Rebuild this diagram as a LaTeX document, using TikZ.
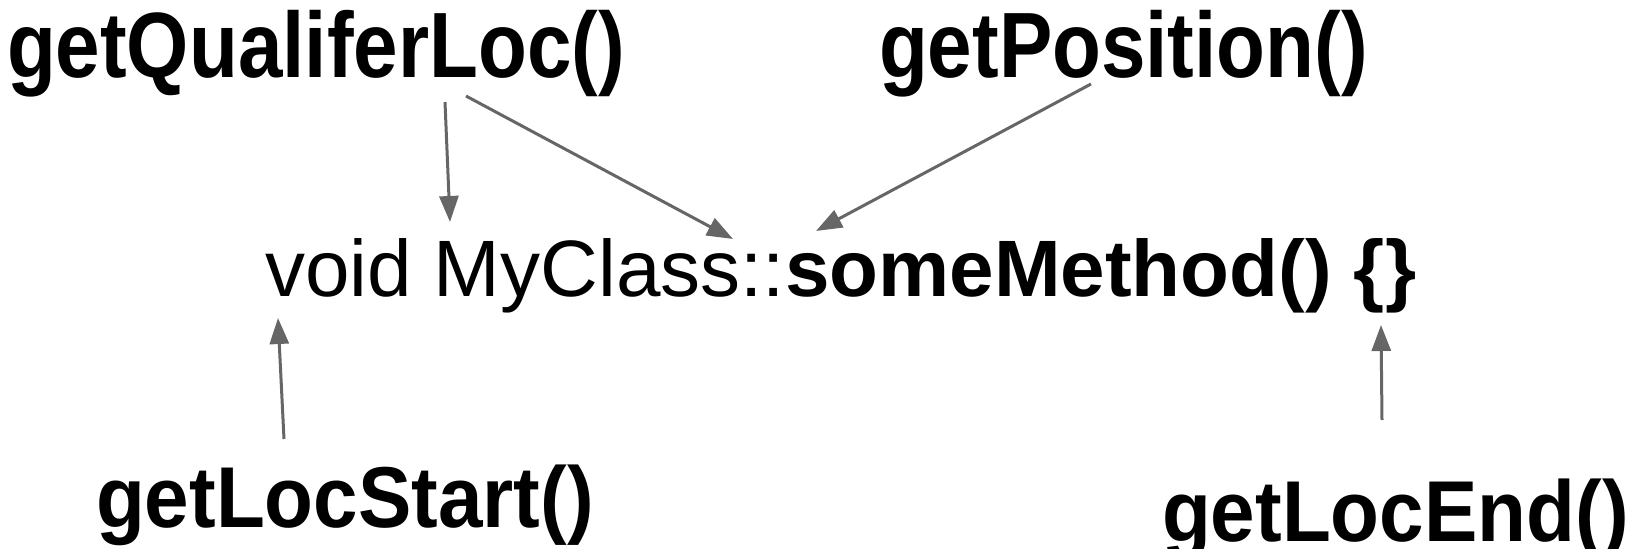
\documentclass[tikz,border=0pt]{standalone}
\usepackage{fontspec}
\setmainfont{Liberation Sans}
\usetikzlibrary{arrows.meta}
\definecolor{arrowgray}{HTML}{666666}
% tall bold label text
\newcommand{\tallbold}[2]{\scalebox{1}[#1]{#2}}
\begin{document}
\begin{tikzpicture}[x=1pt,y=-1pt,
  label/.style={anchor=base west,inner sep=0pt,outer sep=0pt,
    font=\fontsize{80}{96}\selectfont\bfseries},
  code/.style={anchor=base west,inner sep=0pt,outer sep=0pt,
    font=\fontsize{80}{96}\selectfont},
  link/.style={draw=arrowgray,line width=3pt,
    -{Triangle[length=26pt,width=19pt]},arrowgray}]
\useasboundingbox (0,0) rectangle (1639,549);

% method call labels
\node[label] (qual)  at (7,77)    {\tallbold{1.16}{getQualiferLoc()}};
\node[label] (pos)   at (879,77)  {\tallbold{1.16}{getPosition()}};
\node[label] (start) at (96,527)  {\tallbold{1.08}{getLocStart()}};
\node[label] (end)   at (1162,541) {\tallbold{1.08}{getLocEnd()}};

% the declaration being described
\node[code] (decl) at (265,296) {void MyClass::\textbf{someMethod() \{\}}};

% connector end points
\coordinate (qualA) at (445,102);
\coordinate (qualB) at (466,96);
\coordinate (posA)  at (1091,84);
\coordinate (startA) at (284,439);
\coordinate (endA)  at (1382,420);
\coordinate (declVoid)  at (450,222);
\coordinate (declName)  at (733,239);
\coordinate (declName2) at (816,231);
\coordinate (declStart) at (278,318);
\coordinate (declEnd)   at (1381,325);

\draw[link] (qualA) -- (declVoid);
\draw[link] (qualB) -- (declName);
\draw[link] (posA) -- (declName2);
\draw[link] (startA) -- (declStart);
\draw[link] (endA) -- (declEnd);
\end{tikzpicture}
\end{document}
